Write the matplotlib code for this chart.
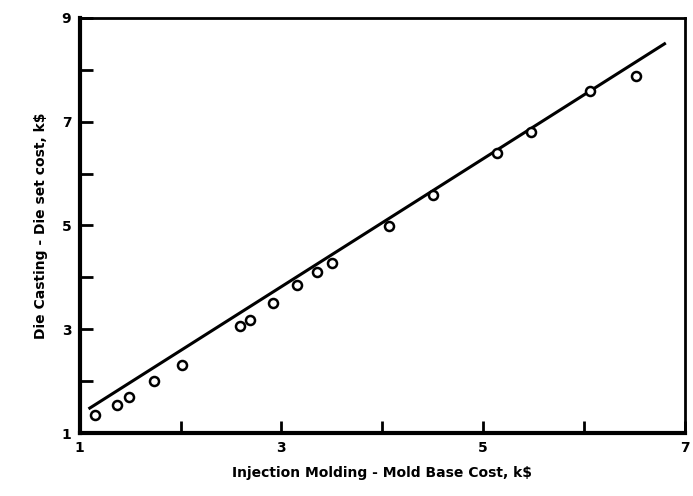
import matplotlib.pyplot as plt
import numpy as np

# mold base cost (k$) vs die set cost (k$)
mold_cost = [1.15, 1.37, 1.49, 1.74, 2.01, 2.59, 2.69, 2.92, 3.16, 3.35, 3.50,
             4.07, 4.50, 5.14, 5.48, 6.06, 6.52]
die_cost = [1.35, 1.54, 1.69, 2.00, 2.31, 3.06, 3.17, 3.50, 3.85, 4.10, 4.27,
            4.98, 5.58, 6.40, 6.81, 7.60, 7.88]
# fitted line end points
fit_x = [1.10, 6.80]
fit_y = [1.48, 8.50]

fig = plt.figure(figsize=(6.93, 4.96), dpi=100)
ax = fig.add_axes([0.115, 0.127, 0.873, 0.837])

ax.plot(fit_x, fit_y, color='black', lw=2.2)
ax.plot(mold_cost, die_cost, 'o', mfc='white', mec='black', ms=6.5, mew=1.8)

ax.set_xlim(1, 7)
ax.set_ylim(1, 9)
ax.set_xticks([1, 2, 3, 4, 5, 6, 7])
ax.set_xticklabels(['1', '', '3', '', '5', '', '7'])
ax.set_yticks([1, 2, 3, 4, 5, 6, 7, 8, 9])
ax.set_yticklabels(['1', '', '3', '', '5', '', '7', '', '9'])
ax.tick_params(direction='in', length=9, width=2, labelsize=10, pad=6)
for lab in ax.get_xticklabels() + ax.get_yticklabels():
    lab.set_fontweight('bold')

for side in ['left', 'bottom']:
    ax.spines[side].set_linewidth(3)
for side in ['top', 'right']:
    ax.spines[side].set_linewidth(2)

ax.set_xlabel('Injection Molding - Mold Base Cost, k$', fontsize=10, fontweight='bold', labelpad=8)
ax.set_ylabel('Die Casting - Die set cost, k$', fontsize=10, fontweight='bold', labelpad=10)

fig.savefig('out.png', dpi=100)
